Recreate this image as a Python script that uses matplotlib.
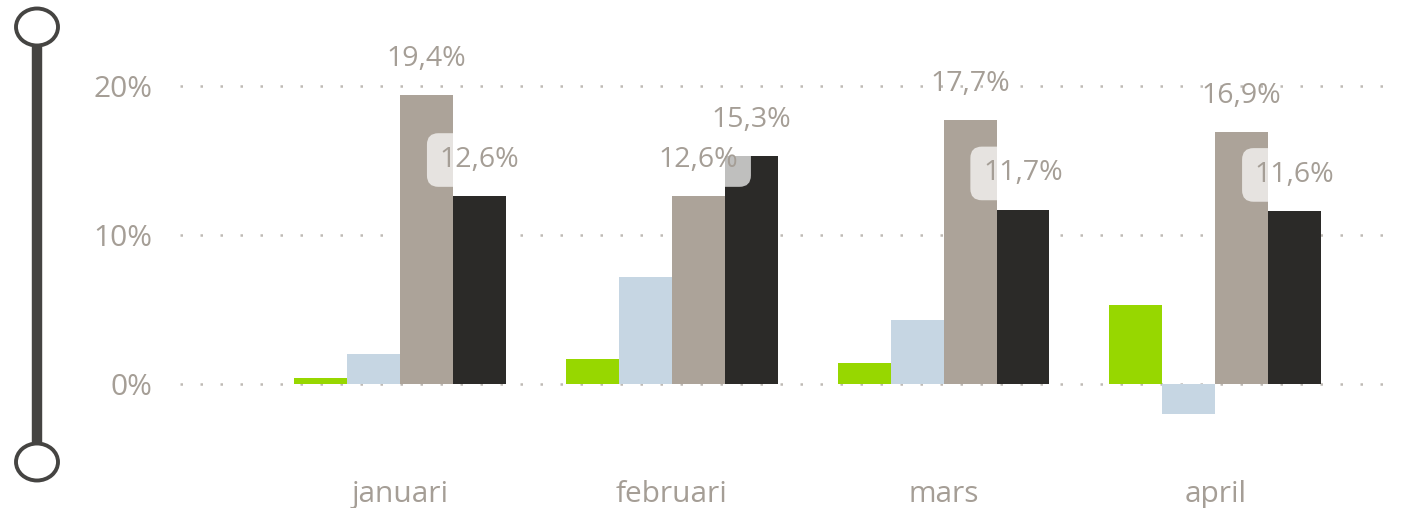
import numpy as np
import matplotlib.pyplot as plt
from matplotlib.lines import Line2D
from matplotlib.patches import Ellipse

plt.rcParams['font.family'] = ['Open Sans', 'DejaVu Sans']

# data
months = ['januari', 'februari', 'mars', 'april']
series_green = [0.4, 1.7, 1.4, 5.3]
series_blue = [2.0, 7.2, 4.3, -2.0]
series_taupe = [19.4, 12.6, 17.7, 16.9]
series_black = [12.6, 15.3, 11.7, 11.6]
# which label gets the translucent badge behind it: (series, month index)
badged = [('black', 0), ('taupe', 1), ('black', 2), ('black', 3)]

colors = {'green': '#97d700', 'blue': '#c6d6e3', 'taupe': '#aca399', 'black': '#2b2a28'}
text_col = '#a59e96'

fig = plt.figure(figsize=(14.02, 5.08), dpi=100)
ax = fig.add_axes([180 / 1402, (508 - 443.6) / 508, 1220 / 1402, (443.6 - 56) / 508])

x = np.arange(len(months))
w = 0.195
all_series = [('green', series_green), ('blue', series_blue),
              ('taupe', series_taupe), ('black', series_black)]
for i, (name, vals) in enumerate(all_series):
    ax.bar(x + (i - 1.5) * w, vals, width=w, color=colors[name], zorder=2)

# value labels for the two big series
for i, (name, vals) in enumerate(all_series):
    if name not in ('taupe', 'black'):
        continue
    for j, v in enumerate(vals):
        kw = {}
        if (name, j) in badged:
            kw['bbox'] = dict(boxstyle='round,pad=0.45,rounding_size=0.4',
                              fc='white', ec='none', alpha=0.7)
        ax.annotate(f'{v:.1f}%'.replace('.', ','), (x[j] + (i - 1.5) * w, v),
                    xytext=(0, 26), textcoords='offset points',
                    ha='center', va='center', fontsize=20.5, color=text_col,
                    zorder=4, **kw)

ax.set_xlim(-0.81, 3.68)
ax.set_ylim(-4, 22)
ax.set_yticks([0, 10, 20])
ax.set_yticklabels(['0%', '10%', '20%'])
ax.set_xticks(x)
ax.set_xticklabels(months)
ax.tick_params(axis='both', length=0, colors=text_col, labelsize=21.5)
ax.tick_params(axis='y', pad=20)
ax.tick_params(axis='x', pad=26)
ax.grid(axis='y', color='#bfbab5', linestyle=(0, (1, 7)), linewidth=1.8, zorder=0)
ax.set_axisbelow(True)
for s in ax.spines.values():
    s.set_visible(False)

# slider decoration on the left
fig.add_artist(Line2D([37 / 1402, 37 / 1402], [1 - 30 / 508, 1 - 460 / 508],
                      color='#454442', linewidth=7.5, transform=fig.transFigure,
                      zorder=1))
for cy in (27, 462):
    fig.add_artist(Ellipse((37 / 1402, 1 - cy / 508), 42 / 1402, 37 / 508,
                           transform=fig.transFigure, fc='white', ec='#454442',
                           lw=2.8, zorder=2))

fig.savefig('out.png', dpi=100)
